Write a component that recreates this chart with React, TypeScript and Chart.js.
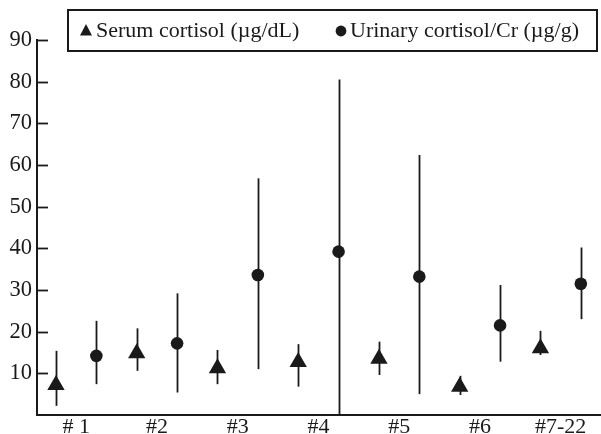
import React, { useEffect, useRef } from "react";
import { Chart, registerables } from "chart.js";

Chart.register(...registerables);

// ---- data ----
const groups = ["# 1", "#2", "#3", "#4", "#5", "#6", "#7-22"];
const serumLabel = "Serum cortisol (\u00b5g/dL)";
const urinaryLabel = "Urinary cortisol/Cr (\u00b5g/g)";
const serumMean = [7.2, 14.8, 11.2, 12.7, 13.5, 6.8, 16.0];
const serumLow = [2.2, 10.6, 7.4, 6.8, 9.6, 4.8, 14.4];
const serumHigh = [15.4, 20.8, 15.6, 17.0, 17.6, 9.4, 20.2];
const urinaryMean = [14.2, 17.2, 33.6, 39.2, 33.2, 21.5, 31.5];
const urinaryLow = [7.4, 5.4, 11.0, 0, 5.0, 12.8, 23.0];
const urinaryHigh = [22.6, 29.2, 56.8, 80.5, 62.4, 31.2, 40.2];
const yTicks = [10, 20, 30, 40, 50, 60, 70, 80, 90];

const FONT = "'Liberation Serif', 'Times New Roman', serif";
const INK = "#1a1a1a";

const errorBars = {
  id: "errorBars",
  beforeDatasetsDraw(chart: any) {
    const { ctx, scales } = chart;
    ctx.save();
    ctx.strokeStyle = INK;
    ctx.lineWidth = 1.8;
    chart.data.datasets.forEach((ds: any) => {
      ds.data.forEach((pt: any, i: number) => {
        const x = Math.round(scales.x.getPixelForValue(pt.x)) + 0.5;
        const y1 = scales.y.getPixelForValue(ds.low[i]);
        const y2 = scales.y.getPixelForValue(ds.high[i]);
        ctx.beginPath();
        ctx.moveTo(x, y1);
        ctx.lineTo(x, y2);
        ctx.stroke();
      });
    });
    ctx.restore();
  },
};

const innerTicks = {
  id: "innerTicks",
  afterDraw(chart: any) {
    const { ctx, scales, chartArea } = chart;
    ctx.save();
    ctx.strokeStyle = INK;
    ctx.lineWidth = 1.8;
    yTicks.forEach((v) => {
      const y = Math.round(scales.y.getPixelForValue(v)) + 0.5;
      ctx.beginPath();
      ctx.moveTo(chartArea.left, y);
      ctx.lineTo(chartArea.left + 11, y);
      ctx.stroke();
    });
    ctx.restore();
  },
};

const boxLegend = {
  id: "boxLegend",
  afterDraw(chart: any) {
    const { ctx } = chart;
    const ds = chart.data.datasets;
    ctx.save();
    ctx.fillStyle = "#ffffff";
    ctx.fillRect(68, 10, 529, 41);
    ctx.strokeStyle = INK;
    ctx.lineWidth = 2;
    ctx.strokeRect(68, 10, 529, 41);
    const cy = 31;
    ctx.fillStyle = INK;
    ctx.beginPath();
    ctx.moveTo(86, cy - 7);
    ctx.lineTo(92, cy + 4.5);
    ctx.lineTo(80, cy + 4.5);
    ctx.closePath();
    ctx.fill();
    ctx.beginPath();
    ctx.arc(341, cy, 5.4, 0, Math.PI * 2);
    ctx.fill();
    ctx.font = `22px ${FONT}`;
    ctx.textBaseline = "middle";
    ctx.textAlign = "left";
    ctx.fillText(ds[0].label, 96, cy);
    ctx.fillText(ds[1].label, 350, cy);
    ctx.restore();
  },
};

export default function App() {
  const ref = useRef<HTMLCanvasElement | null>(null);
  useEffect(() => {
    if (!ref.current) return;
    const chart = new Chart(ref.current, {
      type: "scatter",
      data: {
        datasets: [
          {
            label: serumLabel,
            data: serumMean.map((v, g) => ({ x: 2 * g, y: v })),
            low: serumLow,
            high: serumHigh,
            pointStyle: "triangle",
            pointRadius: 10,
            backgroundColor: INK,
            borderColor: INK,
            borderWidth: 0,
          } as any,
          {
            label: urinaryLabel,
            data: urinaryMean.map((v, g) => ({ x: 2 * g + 1, y: v })),
            low: urinaryLow,
            high: urinaryHigh,
            pointStyle: "circle",
            pointRadius: 6.3,
            backgroundColor: INK,
            borderColor: INK,
            borderWidth: 0,
          } as any,
        ],
      },
      options: {
        responsive: false,
        animation: false,
        layout: { padding: { top: 40, left: 0, right: 0, bottom: 0 }, autoPadding: false } as any,
        plugins: { legend: { display: false }, tooltip: { enabled: false } },
        scales: {
          x: {
            type: "linear",
            min: -0.47,
            max: 13.5,
            grid: { display: false, drawTicks: false },
            border: { display: true, color: INK, width: 2 },
            afterBuildTicks: (scale: any) => {
              scale.ticks = groups.map((_, g) => ({ value: 2 * g + 0.5 }));
            },
            afterFit: (scale: any) => {
              scale.height = 19;
            },
            ticks: {
              autoSkip: false,
              maxRotation: 0,
              padding: -1,
              color: INK,
              font: { family: FONT, size: 22 },
              callback: (v: any) => {
                const g = Math.round((Number(v) - 0.5) / 2);
                return groups[g] ?? "";
              },
            },
          },
          y: {
            min: 0,
            max: 90,
            grid: { display: false, drawTicks: false },
            border: { display: true, color: INK, width: 2 },
            afterBuildTicks: (scale: any) => {
              scale.ticks = yTicks.map((v) => ({ value: v }));
            },
            afterFit: (scale: any) => {
              scale.width = 37;
            },
            ticks: {
              padding: 5,
              color: INK,
              font: { family: FONT, size: 22.5 },
            },
          },
        },
      },
      plugins: [errorBars, innerTicks, boxLegend],
    });
    return () => chart.destroy();
  }, []);
  return (
    <div style={{ position: "fixed", left: 0, top: 0, width: 601, height: 434, background: "#fff" }}>
      <canvas ref={ref} width={601} height={434} style={{ display: "block" }} />
    </div>
  );
}
